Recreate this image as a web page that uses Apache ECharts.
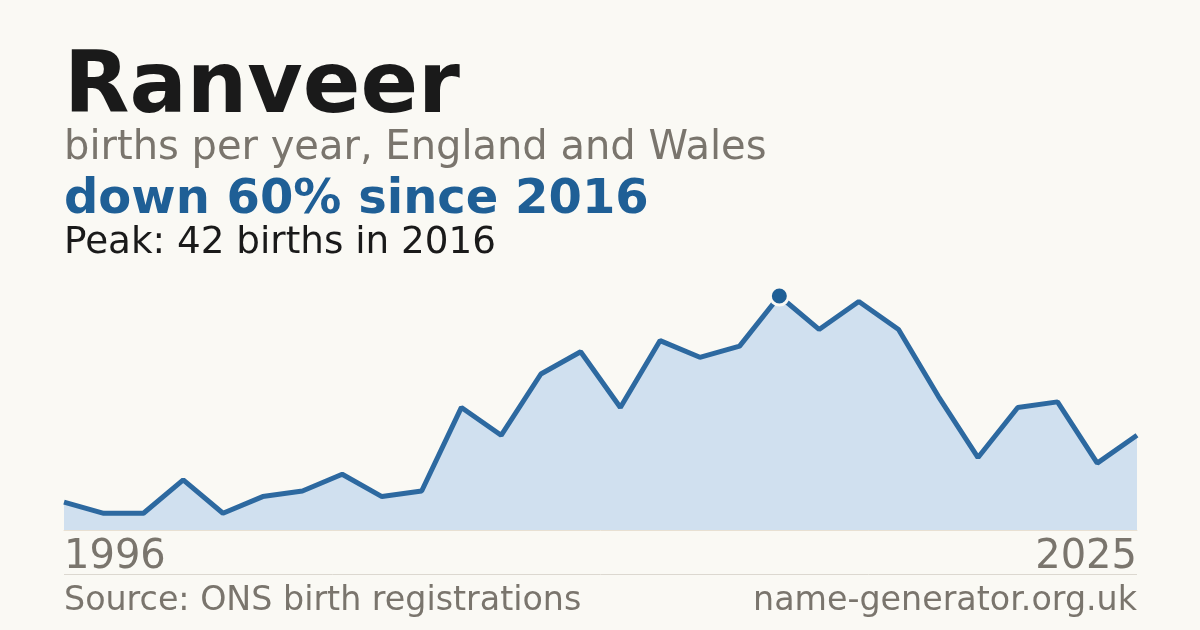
<!DOCTYPE html>
<html>
<head>
<meta charset="utf-8">
<script src="https://cdn.jsdelivr.net/npm/echarts@6/dist/echarts.min.js"></script>
<style>
  html, body { margin: 0; padding: 0; background: #faf9f4; }
  #chart { width: 1200px; height: 630px; }
</style>
</head>
<body>
<div id="chart"></div>
<script>
// years with published counts (two early years suppressed)
var years = ['1996', '1997', '1998', '2000', '2001', '2002', '2004', '2005', '2006', '2007',
  '2008', '2009', '2010', '2011', '2012', '2013', '2014', '2015', '2016', '2017',
  '2018', '2019', '2020', '2021', '2022', '2023', '2024', '2025'];
var births = [5, 3, 3, 9, 3, 6, 7, 10, 6, 7,
  22, 17, 28, 32, 22, 34, 31, 33, 42, 36,
  41, 36, 24, 13, 22, 23, 12, 17];

var FONT = '"DejaVu Sans", sans-serif';
var GREY = '#7a756d';
var BLUE = '#1f5f96';

var chart = echarts.init(document.getElementById('chart'));

var option = {
  backgroundColor: '#faf9f4',
  animation: false,
  grid: { left: 64, right: 63, top: 296, bottom: 100 },
  xAxis: {
    type: 'category',
    data: years,
    boundaryGap: false,
    axisLine: { show: true, lineStyle: { color: '#e8e0d2', width: 1 } },
    axisTick: { show: false },
    axisLabel: {
      interval: function (i) { return i === 0 || i === years.length - 1; },
      alignMinLabel: 'left',
      alignMaxLabel: 'right',
      margin: 8,
      color: GREY,
      fontFamily: FONT,
      fontSize: 40
    }
  },
  yAxis: {
    type: 'value',
    min: 0,
    max: 42,
    show: false,
    splitLine: { show: false }
  },
  series: [{
    type: 'line',
    data: births,
    showSymbol: false,
    lineStyle: { color: '#2d69a0', width: 5 },
    areaStyle: { color: '#d0e0ef', opacity: 1 },
    markPoint: {
      symbol: 'circle',
      symbolSize: 18,
      itemStyle: { color: BLUE, borderColor: '#faf9f4', borderWidth: 3 },
      label: { show: false },
      data: [{ type: 'max' }]
    }
  }],
  graphic: [
    { type: 'text', left: 64, top: 47,
      style: { text: 'Ranveer', font: 'bold 85px ' + FONT, fill: '#1a1a1a' } },
    { type: 'text', left: 64, top: 129,
      style: { text: 'births per year, England and Wales', font: '40px ' + FONT, fill: GREY } },
    { type: 'text', left: 64, top: 177,
      style: { text: 'down 60% since 2016', font: 'bold 48px ' + FONT, fill: BLUE } },
    { type: 'text', left: 64, top: 225,
      style: { text: 'Peak: 42 births in 2016', font: '37.3px ' + FONT, fill: '#1a1a1a' } },
    { type: 'line', shape: { x1: 64, y1: 574.5, x2: 1137, y2: 574.5 },
      style: { stroke: '#dcd8d0', lineWidth: 1 } },
    { type: 'text', left: 64, top: 585,
      style: { text: 'Source: ONS birth registrations', font: '33.3px ' + FONT, fill: GREY } },
    { type: 'text', right: 63, top: 585,
      style: { text: 'name-generator.org.uk', font: '33.3px ' + FONT, fill: GREY } }
  ]
};

chart.setOption(option);
</script>
</body>
</html>
